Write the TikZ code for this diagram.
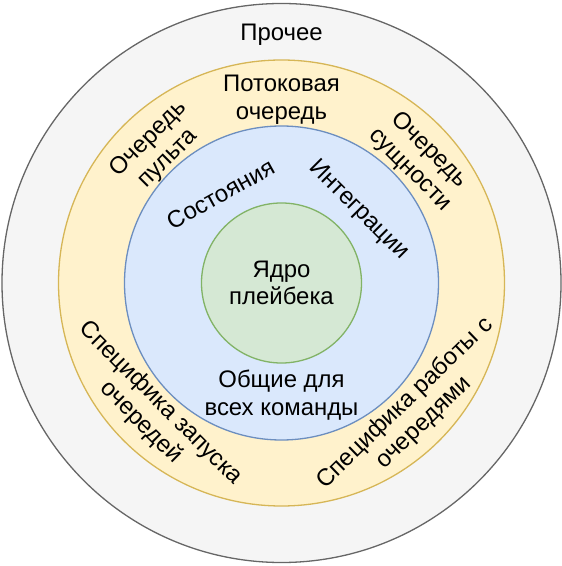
\documentclass[tikz,border=0pt]{standalone}
\usepackage{fontspec}
\setmainfont{Liberation Sans}
\usepackage{tikz}

\definecolor{otherfill}{HTML}{F5F5F5}
\definecolor{otherline}{HTML}{666666}
\definecolor{queuefill}{HTML}{FFF2CC}
\definecolor{queueline}{HTML}{D6B656}
\definecolor{commonfill}{HTML}{DAE8FC}
\definecolor{commonline}{HTML}{6C8EBF}
\definecolor{corefill}{HTML}{D5E8D4}
\definecolor{coreline}{HTML}{82B366}

\begin{document}
\begin{tikzpicture}[x=1bp, y=1bp,
    ring/.style={circle, line width=1.3bp, inner sep=0pt},
    lbl/.style={align=center, inner sep=1bp, font=\fontsize{24}{27.6}\selectfont}]
\useasboundingbox (-281.5,-283) rectangle (280.5,283);
% rings from outside in
\node[ring, draw=otherline, fill=otherfill, minimum size=559bp] (other) at (0,0) {};
\node[ring, draw=queueline, fill=queuefill, minimum size=446bp] (queues) at (0,0) {};
\node[ring, draw=commonline, fill=commonfill, minimum size=314bp] (common) at (0,0) {};
\node[ring, draw=coreline, fill=corefill, minimum size=160bp] (core) at (0,0) {};
% outer ring
\node[lbl] (prochee) at (0,248) {Прочее};
% queue ring
\node[lbl] (stream) at (0,183) {Потоковая\\очередь};
\node[lbl, rotate=45] (remote) at (-123,134) {Очередь\\пульта};
\node[lbl, rotate=-45] (entity) at (138,123) {Очередь\\сущности};
\node[lbl, rotate=-45] (launch) at (-131,-130) {Специфика запуска\\очередей};
\node[lbl, rotate=44] (work) at (133,-130) {Специфика работы с\\очередями};
% common ring
\node[lbl, rotate=29] (states) at (-61,89) {Состояния};
\node[lbl, rotate=-45] (integr) at (77,73) {Интеграции};
\node[lbl] (shared) at (0,-112) {Общие для\\всех команды};
% core
\node[lbl] (kernel) at (0,0) {Ядро\\плейбека};
\end{tikzpicture}
\end{document}
